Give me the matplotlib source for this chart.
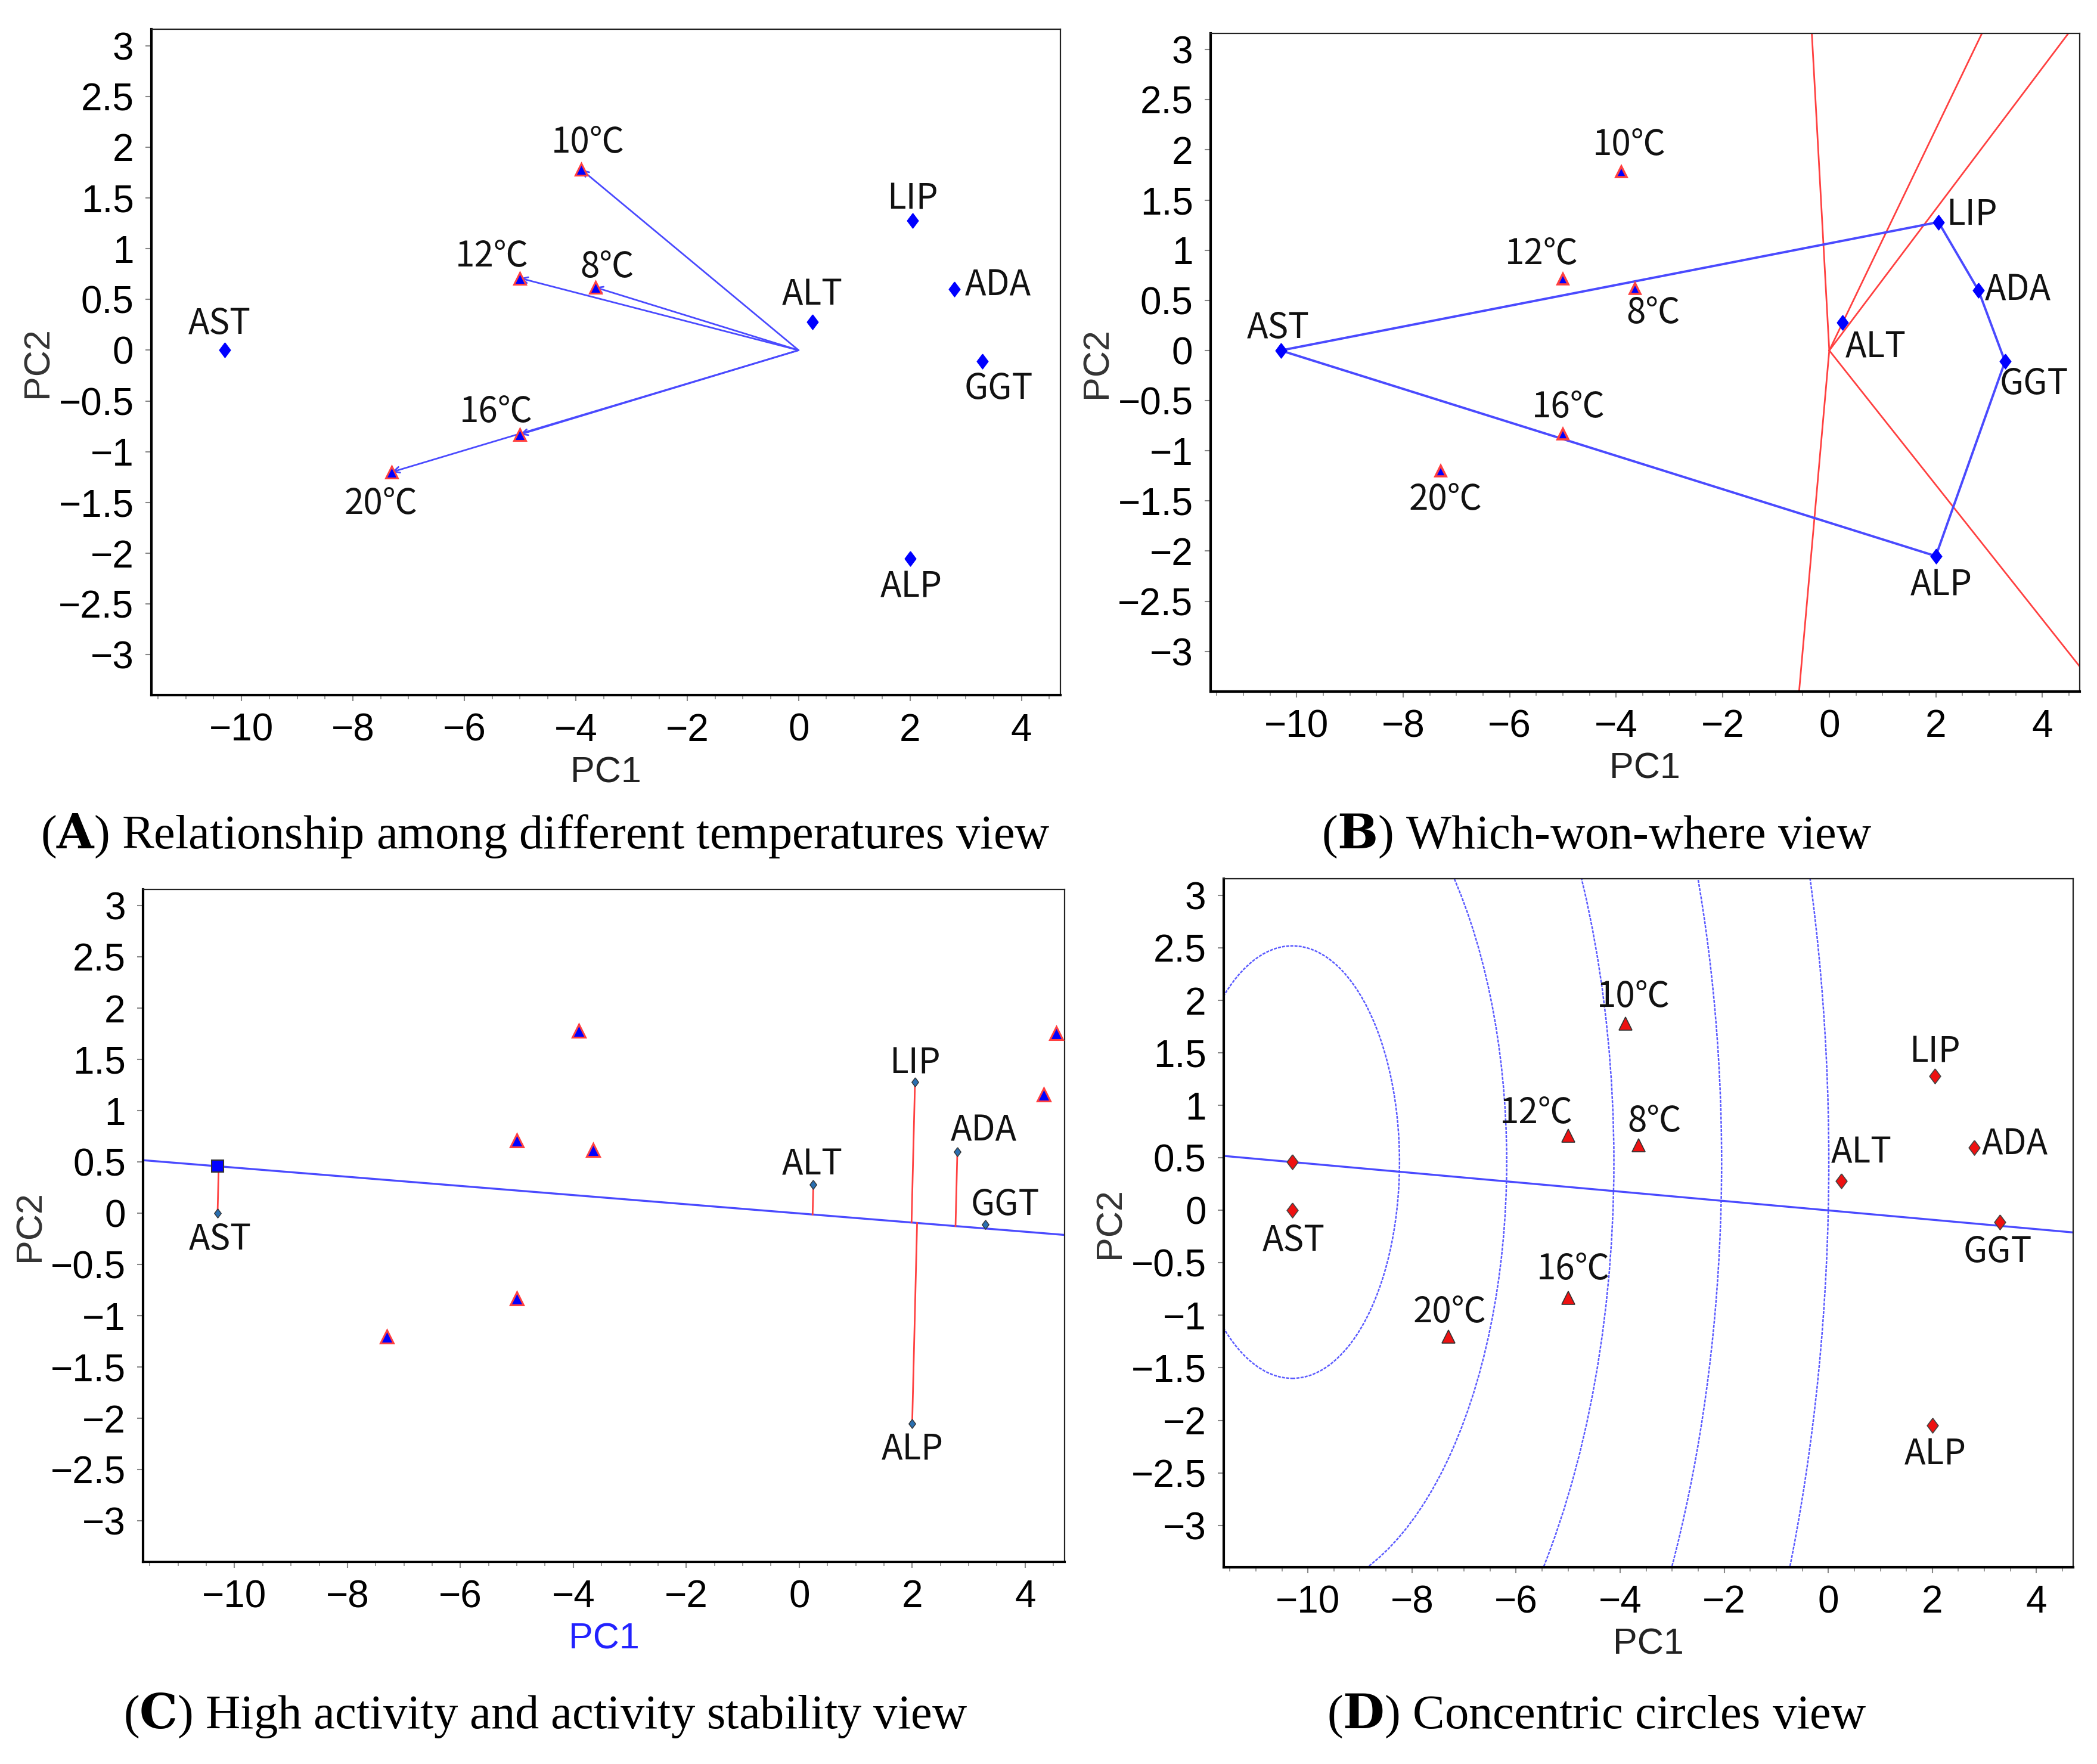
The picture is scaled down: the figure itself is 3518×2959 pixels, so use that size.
import numpy as np
import matplotlib
matplotlib.use("Agg")
import matplotlib.pyplot as plt
from matplotlib.patches import Circle

# genotypes (enzymes) and environments (temperatures)
gen_names = ["AST", "LIP", "ADA", "ALT", "GGT", "ALP"]
gen_pc1 = [-10.3, 2.05, 2.8, 0.25, 3.3, 2.0]
gen_pc2 = [0.0, 1.28, 0.6, 0.28, -0.11, -2.05]

env_names = ["10℃", "12℃", "8℃", "16℃", "20℃"]
env_pc1 = [-3.9, -5.0, -3.65, -5.0, -7.3]
env_pc2 = [1.78, 0.71, 0.62, -0.83, -1.2]

# extra environment markers visible only in panel C
extra_pc1 = [4.55, 4.33]
extra_pc2 = [1.76, 1.16]

# average environment point (ATA axis) and polygon order
avg_env = (-10.3, 0.46)
polygon = ["AST", "LIP", "ADA", "GGT", "ALP"]
circle_radii = [2.06, 4.12, 6.18, 8.25, 10.31]

captions = [
    ("A", "Relationship among different temperatures view"),
    ("B", "Which-won-where view"),
    ("C", "High activity and activity stability view"),
    ("D", "Concentric circles view"),
]

XLIM = (-11.62, 4.7)
YLIM = (-3.4, 3.16)
LABEL_FONT = ["Noto Sans CJK SC", "DejaVu Sans"]
TICK_FONT = "Liberation Sans"
BLUE = "#0000ff"
LINE_BLUE = "#4a4aff"
RED = "#ff4040"

fig = plt.figure(figsize=(35.18, 29.59), dpi=100)

axes_pos = [
    [0.0721, 0.6058, 0.4336, 0.3775],
    [0.5772, 0.6080, 0.4145, 0.3730],
    [0.0682, 0.1145, 0.4395, 0.3813],
    [0.5835, 0.1115, 0.4050, 0.3904],
]
axs = [fig.add_axes(p) for p in axes_pos]


def style_axis(ax, xcolor="#222222"):
    ax.set_xlim(*XLIM)
    ax.set_ylim(*YLIM)
    ax.set_xticks(np.arange(-10, 5, 2))
    ax.set_xticks(np.arange(-11.5, 4.7, 0.5), minor=True)
    ax.set_yticks(np.arange(-3, 3.01, 0.5))
    ax.set_yticklabels([("%g" % v).replace("-", "\u2212") for v in np.arange(-3, 3.01, 0.5)])
    ax.set_xticklabels([("%g" % v).replace("-", "\u2212") for v in np.arange(-10, 5, 2)])
    ax.tick_params(axis="both", which="major", direction="out", length=7,
                   width=1.5, color="#888888", labelsize=46, pad=14)
    ax.tick_params(axis="x", which="minor", direction="out", length=5,
                   width=1.2, color="#888888")
    for lab in ax.get_xticklabels() + ax.get_yticklabels():
        lab.set_fontfamily(TICK_FONT)
    for side in ["left", "bottom"]:
        ax.spines[side].set_linewidth(3)
    for side in ["top", "right"]:
        ax.spines[side].set_linewidth(1.6)
        ax.spines[side].set_color("#222222")
    ax.set_xlabel("PC1", fontsize=44, family=TICK_FONT, color=xcolor, labelpad=9)
    ax.set_ylabel("PC2", fontsize=44, family=TICK_FONT, color="#333333", labelpad=4)


def label_points(ax, names, xs, ys, offsets):
    for n, x, y in zip(names, xs, ys):
        dx, dy, ha = offsets[n]
        ax.annotate(n, (x, y), xytext=(dx, dy), textcoords="offset points",
                    ha=ha, va="center", fontsize=42, family=LABEL_FONT,
                    weight="medium", color="#111111", zorder=6)


diamond = [(0, 1), (0.75, 0), (0, -1), (-0.75, 0), (0, 1)]
P = 1.6  # displayed-pixel to point factor for label offsets

# ---------------- (A) vectors to environments ----------------
ax = axs[0]
style_axis(ax)
for x, y in zip(env_pc1, env_pc2):
    ax.annotate("", xy=(x, y), xytext=(0, 0),
                arrowprops=dict(arrowstyle="->", color=LINE_BLUE, lw=2,
                                shrinkA=0, shrinkB=0, mutation_scale=18), zorder=3)
ax.plot(env_pc1, env_pc2, ls="none", marker="^", ms=14, mfc=BLUE, mec=RED, mew=2.2, zorder=4)
ax.plot(gen_pc1, gen_pc2, ls="none", marker=diamond, ms=18, mfc=BLUE, mec=BLUE, zorder=4)
offs_a = {
    "AST": (-4 * P, 20 * P, "center"), "LIP": (0, 16 * P, "center"),
    "ADA": (8 * P, 3 * P, "left"), "ALT": (0, 20 * P, "center"),
    "GGT": (12 * P, -21 * P, "center"), "ALP": (1 * P, -22 * P, "center"),
    "10℃": (5 * P, 20 * P, "center"), "12℃": (-21 * P, 16 * P, "center"),
    "8℃": (9 * P, 15 * P, "center"), "16℃": (-18 * P, 17 * P, "center"),
    "20℃": (-8 * P, -24 * P, "center"),
}
label_points(ax, gen_names, gen_pc1, gen_pc2, offs_a)
label_points(ax, env_names, env_pc1, env_pc2, offs_a)

# ---------------- (B) which-won-where polygon ----------------
ax = axs[1]
style_axis(ax)
gx = {n: x for n, x in zip(gen_names, gen_pc1)}
gy = {n: y for n, y in zip(gen_names, gen_pc2)}
px = [gx[n] for n in polygon] + [gx[polygon[0]]]
py = [gy[n] for n in polygon] + [gy[polygon[0]]]
ax.plot(px, py, color=LINE_BLUE, lw=2.8, zorder=3)
for i in range(len(polygon)):
    x1, y1, x2, y2 = px[i], py[i], px[i + 1], py[i + 1]
    nx, ny = (y2 - y1), -(x2 - x1)
    if nx * (x1 + x2) + ny * (y1 + y2) < 0:
        nx, ny = -nx, -ny
    s = 40 / np.hypot(nx, ny)
    ax.plot([0, nx * s], [0, ny * s], color=RED, lw=2, zorder=2)
ax.plot(env_pc1, env_pc2, ls="none", marker="^", ms=13, mfc=BLUE, mec=RED, mew=2.6, zorder=4)
ax.plot(gen_pc1, gen_pc2, ls="none", marker=diamond, ms=18, mfc=BLUE, mec=BLUE, zorder=4)
offs_b = {
    "AST": (-2 * P, 17 * P, "center"), "LIP": (6 * P, 5 * P, "left"),
    "ADA": (5 * P, 0, "left"), "ALT": (2 * P, -19 * P, "left"),
    "GGT": (-4 * P, -17 * P, "left"), "ALP": (4 * P, -22 * P, "center"),
    "10℃": (6 * P, 20 * P, "center"), "12℃": (-16 * P, 19 * P, "center"),
    "8℃": (14 * P, -19 * P, "center"), "16℃": (4 * P, 20 * P, "center"),
    "20℃": (4 * P, -22 * P, "center"),
}
label_points(ax, gen_names, gen_pc1, gen_pc2, offs_b)
label_points(ax, env_names, env_pc1, env_pc2, offs_b)

# ---------------- (C) mean vs stability ----------------
ax = axs[2]
style_axis(ax, xcolor="#2222ff")
ux, uy = avg_env[0], avg_env[1]
norm = np.hypot(ux, uy)
ux, uy = ux / norm, uy / norm
ax.plot([-40 * ux, 40 * ux], [-40 * uy, 40 * uy], color=LINE_BLUE, lw=2.4, zorder=2)
for x, y in zip(gen_pc1, gen_pc2):
    t = x * ux + y * uy
    ax.plot([x, t * ux], [y, t * uy], color=RED, lw=2, zorder=3)
all_env_x = env_pc1 + extra_pc1
all_env_y = env_pc2 + extra_pc2
ax.plot(all_env_x, all_env_y, ls="none", marker="^", ms=16, mfc=BLUE, mec=RED, mew=2.2, zorder=4)
ax.plot(gen_pc1, gen_pc2, ls="none", marker=diamond, ms=11, mfc="#2a6fb0", mec="#333333",
        mew=1, zorder=5)
ax.plot([avg_env[0]], [avg_env[1]], ls="none", marker="s", ms=14, mfc=BLUE, mec="#333333",
        mew=1.5, zorder=5)
offs_c = {
    "AST": (2 * P, -20 * P, "center"), "ALT": (-1 * P, 15 * P, "center"),
    "LIP": (0, 14 * P, "center"), "ADA": (20 * P, 16 * P, "center"),
    "GGT": (15 * P, 15 * P, "center"), "ALP": (0, -20 * P, "center"),
}
label_points(ax, gen_names, gen_pc1, gen_pc2, offs_c)

# ---------------- (D) concentric circles ----------------
ax = axs[3]
style_axis(ax)
for r in circle_radii:
    ax.add_patch(Circle(avg_env, r, fill=False, ec="#5a5aff", lw=1.8,
                        ls=(0, (2, 0.8)), zorder=2))
ax.plot([-40 * ux, 40 * ux], [-40 * uy, 40 * uy], color=LINE_BLUE, lw=2.4, zorder=2)
ax.plot(env_pc1, env_pc2, ls="none", marker="^", ms=16, mfc="#ee1111", mec="#333333",
        mew=1.2, zorder=4)
ax.plot(gen_pc1, gen_pc2, ls="none", marker=diamond, ms=18, mfc="#ee1111", mec="#444444",
        mew=1.2, zorder=4)
ax.plot([avg_env[0]], [avg_env[1]], ls="none", marker=diamond, ms=18, mfc="#ee1111",
        mec="#444444", mew=1.2, zorder=4)
offs_d = {
    "AST": (1 * P, -23 * P, "center"), "LIP": (0, 18 * P, "center"),
    "ADA": (6 * P, 2 * P, "left"), "ALT": (15 * P, 21 * P, "center"),
    "GGT": (-2 * P, -23 * P, "center"), "ALP": (2 * P, -22 * P, "center"),
    "10℃": (6 * P, 20 * P, "center"), "12℃": (-24 * P, 17 * P, "center"),
    "8℃": (12 * P, 18 * P, "center"), "16℃": (4 * P, 21 * P, "center"),
    "20℃": (1 * P, 18 * P, "center"),
}
label_points(ax, gen_names, gen_pc1, gen_pc2, offs_d)
label_points(ax, env_names, env_pc1, env_pc2, offs_d)

# ---------------- captions ----------------
cap_xy = [(0.26, 0.526), (0.7615, 0.526), (0.26, 0.0273), (0.7615, 0.0273)]
for (letter, text), (cx, cy) in zip(captions, cap_xy):
    fig.text(cx, cy, r"(" + r"$\mathbf{%s}$" % letter + r") " + text,
             ha="center", va="center", fontsize=58, family="Liberation Serif",
             math_fontfamily="dejavuserif")

fig.savefig("out.png", dpi=100)
